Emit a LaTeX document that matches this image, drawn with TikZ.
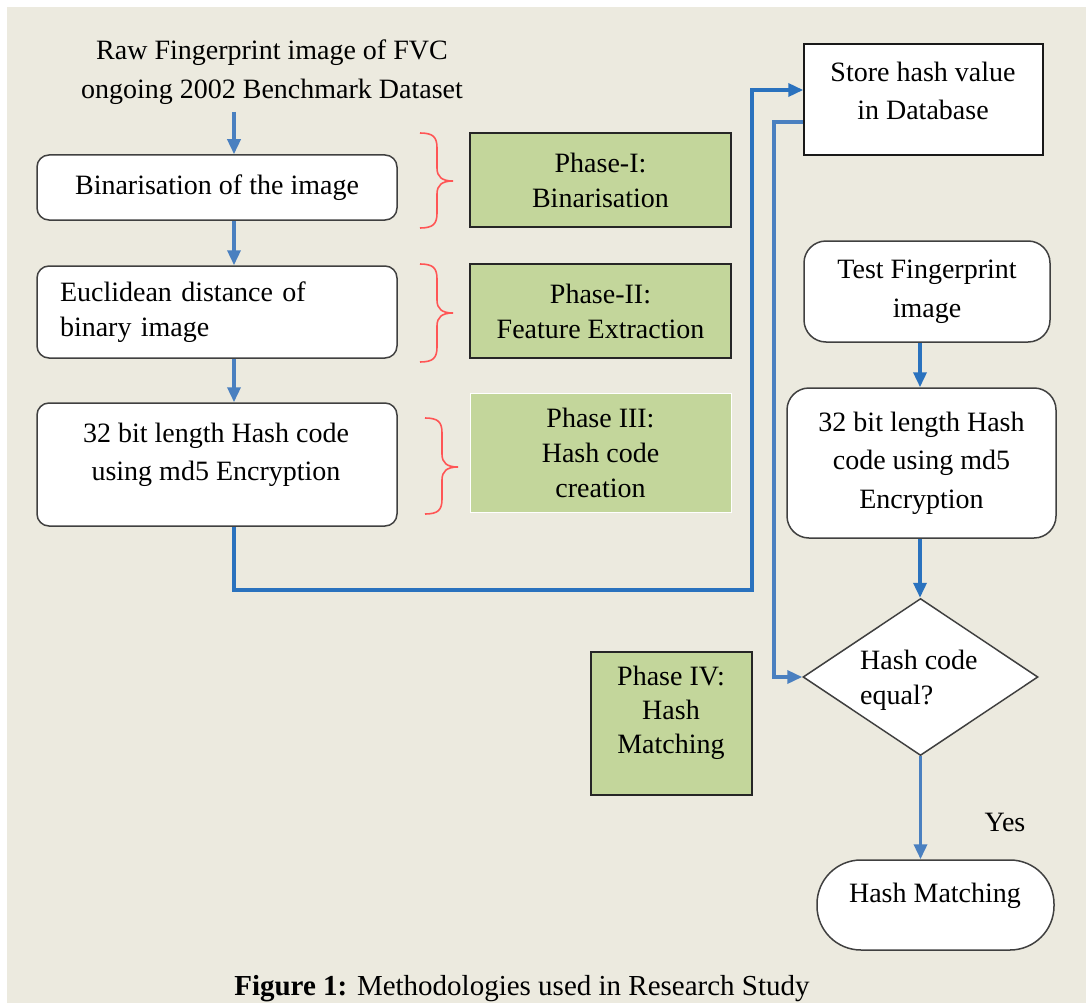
\documentclass[tikz,border=0pt]{standalone}
\usepackage{fontspec}
\setmainfont{Liberation Serif}
\usetikzlibrary{arrows.meta,shapes.geometric}
\definecolor{bg}{HTML}{ECEADF}
\definecolor{phgreen}{HTML}{C3D69B}
\definecolor{lnblue}{HTML}{4A80C0}
\definecolor{dkblue}{HTML}{2A72BE}
\definecolor{brred}{HTML}{FF5555}
\definecolor{bord}{HTML}{404040}
\newcommand{\phbrace}[4]{%
 \draw[brace] (#1,#2) .. controls ({#1+13},#2) and ({#1+17},{#2+4}) .. ({#1+17},{#2+15})
   -- ({#1+17},{#3-13}) .. controls ({#1+17},{#3-4}) and ({#1+22},#3) .. ({#1+33},#3)
   .. controls ({#1+22},#3) and ({#1+17},{#3+4}) .. ({#1+17},{#3+13})
   -- ({#1+17},{#4-15}) .. controls ({#1+17},{#4-4}) and ({#1+13},#4) .. (#1,#4);}
\begin{document}
\begin{tikzpicture}[x=1pt,y=-1pt,
 rbox/.style={draw=bord, line width=1.5pt, fill=white, rounded corners=12pt, inner sep=0pt},
 sbox/.style={draw=black!90, line width=1.5pt, fill=white, inner sep=0pt},
 gbox/.style={draw=black!85, line width=1.5pt, fill=phgreen, inner sep=0pt},
 txt/.style={font=\fontsize{28}{35}\selectfont, align=center, inner sep=0pt},
 txtw/.style={font=\fontsize{28}{38.5}\selectfont, align=center, inner sep=0pt},
 conn/.style={draw=lnblue, line width=3.5pt, -{Triangle[length=15pt,width=13pt]}},
 connd/.style={conn, draw=dkblue},
 brace/.style={draw=brred, line width=1.6pt}]
\clip (0,0) rectangle (1086,1003);
\fill[white] (0,0) rectangle (1086,1003);
\fill[bg] (7,7) rectangle (1086,1003);

% column coordinates
\coordinate (colL) at (234,0);
\coordinate (colR) at (774,0);
\coordinate (colM) at (920,0);
\coordinate (bend1) at (752,590);

% left column
\node[txtw] (title) at (272,72) {Raw Fingerprint image of FVC\\ongoing 2002 Benchmark Dataset};
\coordinate (a0) at (234,112);
\node[rbox, txt, minimum width=360pt, minimum height=65pt] (b1) at (217,187.5) {Binarisation of the image};
\node[rbox, txt, align=left, text width=314pt, minimum width=360pt, minimum height=92pt] (b2) at (217,312) {Euclidean distance of\\binary image};
\node[rbox, minimum width=360pt, minimum height=123pt] (b3) at (217,464.5) {};
\node[txtw] (b3t) at (216,455) {32 bit length Hash code\\using md5 Encryption};

% phase boxes
\node[gbox, txt, minimum width=261pt, minimum height=94pt] (p1) at (600.5,180) {Phase-I:\\Binarisation};
\node[gbox, txt, minimum width=261pt, minimum height=94pt] (p2) at (600.5,311) {Phase-II:\\Feature Extraction};
\node[gbox, txt, draw=white, line width=1pt, minimum width=261pt, minimum height=119pt] (p3) at (600.5,452.5) {Phase III:\\Hash code\\creation};
\node[gbox, minimum width=161pt, minimum height=143pt] (p4) at (671.5,723.5) {};
\node[txt, font=\fontsize{28}{34}\selectfont] (p4t) at (671,713) {Phase IV:\\Hash\\Matching};

% braces
\phbrace{420}{133}{181}{228}
\phbrace{420}{264}{313}{362}
\phbrace{425}{418}{467}{514}

% right column
\node[sbox, minimum width=239pt, minimum height=111pt] (store) at (923.5,99.5) {};
\node[txtw] (storet) at (923,91) {Store hash value\\in Database};
\node[rbox, txtw, rounded corners=22pt, minimum width=246pt, minimum height=101pt] (test) at (927,291.5) {Test Fingerprint\\image};
\node[rbox, txtw, rounded corners=22pt, minimum width=269pt, minimum height=150pt] (h2) at (921.5,463) {32 bit length Hash\\code using md5\\Encryption};
\node[diamond, draw=bord, line width=1.5pt, fill=white, inner sep=0pt, minimum width=235pt, minimum height=157pt] (dia) at (920.5,677) {};
\node[txt, align=left, anchor=west] (diat) at (860,680) {Hash code\\equal?};
\node[rbox, rounded corners=44pt, minimum width=237pt, minimum height=90pt] (hm) at (935.5,905) {};
\node[txt] (hmt) at (935,896) {Hash Matching};
\node[txt] (yes) at (1005,822) {Yes};

% connectors
\draw[conn] (a0) -- (a0 |- b1.north);
\draw[conn] (b1.south -| colL) -- (b2.north -| colL);
\draw[conn] (b2.south -| colL) -- (b3.north -| colL);
\draw[connd] (b3.south -| colL) |- (bend1) |- ([yshift=9.5pt]store.west);
\draw[conn] ([yshift=-22.5pt]store.west) -| (dia.west -| colR) -- (dia.west);
\draw[connd] (test.south -| colM) -- (h2.north -| colM);
\draw[connd] (h2.south -| colM) -- (dia.north -| colM);
\draw[conn] (dia.south) -- (hm.north -| dia.south);

% caption
\node[anchor=base, inner sep=0pt, font=\fontsize{29}{34}\selectfont] (cap) at (522,995) {\textbf{Figure 1:} Methodologies used in Research Study};
\end{tikzpicture}
\end{document}
